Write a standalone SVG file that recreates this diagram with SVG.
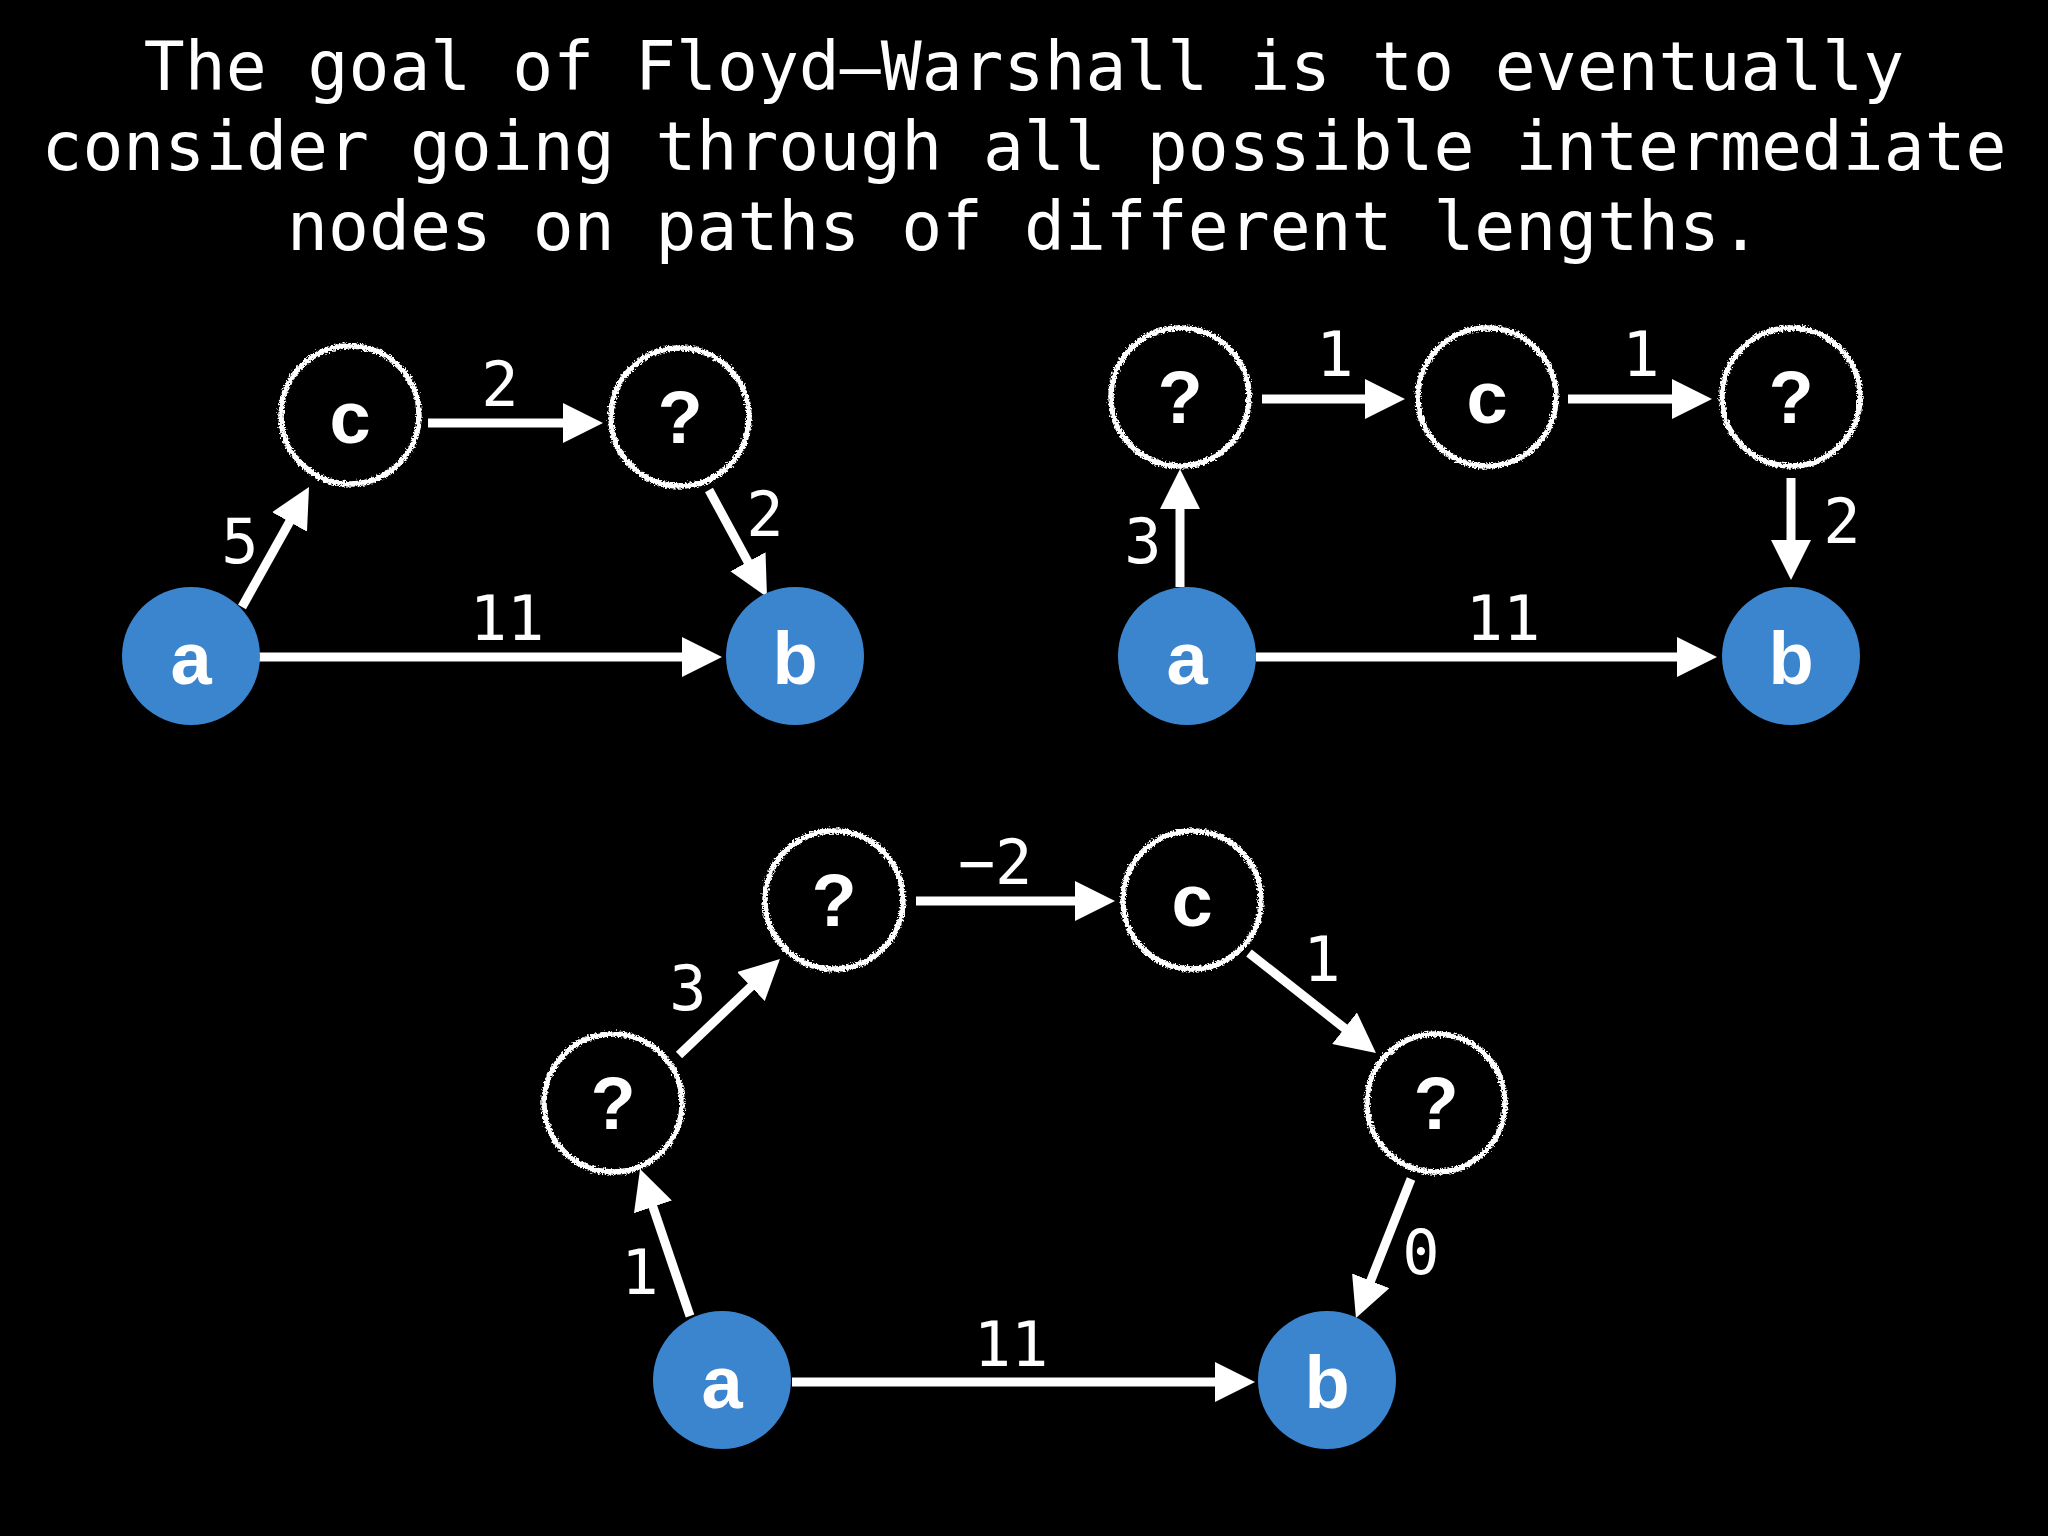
<svg xmlns="http://www.w3.org/2000/svg" width="2048" height="1536" viewBox="0 0 2048 1536">
<style>
.title{font-family:"DejaVu Sans Mono","Liberation Mono",monospace;font-size:68px;fill:#fff;text-anchor:middle}
.lbl{font-family:"DejaVu Sans Mono","Liberation Mono",monospace;font-size:62px;fill:#fff;text-anchor:middle}
.nl{font-family:"Liberation Sans",Arial,sans-serif;font-weight:bold;font-size:74px;fill:#fff;text-anchor:middle}
.solid{fill:#3b85cf}
.dash{fill:none;stroke:#fff;stroke-width:5.5;filter:url(#rough)}
.edge{stroke:#fff;stroke-width:9;fill:none;marker-end:url(#ah)}
</style>
<defs>
<marker id="ah" viewBox="0 0 40 40" markerWidth="40" markerHeight="40" markerUnits="userSpaceOnUse" refX="10" refY="20" orient="auto">
<path d="M0,0 L40,20 L0,40 z" fill="#fff"/>
</marker>
<filter id="rough" x="-10%" y="-10%" width="120%" height="120%">
<feTurbulence type="fractalNoise" baseFrequency="0.55" numOctaves="2" seed="3"/>
<feDisplacementMap in="SourceGraphic" scale="6" xChannelSelector="R" yChannelSelector="G"/>
</filter>
</defs>
<rect width="2048" height="1536" fill="#000"/>
<g id="title">
<text class="title" x="1024" y="90">The goal of Floyd–Warshall is to eventually</text>
<text class="title" x="1024" y="170">consider going through all possible intermediate</text>
<text class="title" x="1024" y="250">nodes on paths of different lengths.</text>
</g>
<g id="connectors">
<line class="edge" x1="242" y1="607" x2="294.4" y2="513.2"/>
<line class="edge" x1="428" y1="423" x2="573" y2="423"/>
<line class="edge" x1="709" y1="490" x2="752.7" y2="570.6"/>
<line class="edge" x1="259" y1="657" x2="692" y2="657"/>
<line class="edge" x1="1262" y1="399" x2="1375" y2="399"/>
<line class="edge" x1="1568" y1="399" x2="1682" y2="399"/>
<line class="edge" x1="1180" y1="587" x2="1180" y2="499"/>
<line class="edge" x1="1791" y1="478" x2="1791" y2="550"/>
<line class="edge" x1="1256" y1="657" x2="1687" y2="657"/>
<line class="edge" x1="690" y1="1316" x2="649.7" y2="1197.4"/>
<line class="edge" x1="679" y1="1055" x2="758.2" y2="979.7"/>
<line class="edge" x1="916" y1="901" x2="1085" y2="901"/>
<line class="edge" x1="1249" y1="953" x2="1352.4" y2="1034.4"/>
<line class="edge" x1="1411" y1="1179" x2="1367" y2="1290.1"/>
<line class="edge" x1="792" y1="1382" x2="1225" y2="1382"/>
<text class="lbl" x="240" y="563">5</text>
<text class="lbl" x="500" y="406">2</text>
<text class="lbl" x="765" y="536">2</text>
<text class="lbl" x="507" y="640">11</text>
<text class="lbl" x="1335" y="376">1</text>
<text class="lbl" x="1641" y="376">1</text>
<text class="lbl" x="1143" y="563">3</text>
<text class="lbl" x="1842" y="543">2</text>
<text class="lbl" x="1503" y="640">11</text>
<text class="lbl" x="640" y="1294">1</text>
<text class="lbl" x="688" y="1010">3</text>
<text class="lbl" x="995" y="884">−2</text>
<text class="lbl" x="1322" y="981">1</text>
<text class="lbl" x="1421" y="1274">0</text>
<text class="lbl" x="1011" y="1366">11</text>
</g>
<g id="g1-a"><circle class="solid" cx="191" cy="656" r="69"/><text class="nl" x="191" y="684">a</text></g>
<g id="g1-b"><circle class="solid" cx="795" cy="656" r="69"/><text class="nl" x="795" y="684">b</text></g>
<g id="g1-c"><circle class="dash" cx="350" cy="415" r="69"/><text class="nl" x="350" y="443">c</text></g>
<g id="g1-q"><circle class="dash" cx="680" cy="417" r="69"/><text class="nl" x="680" y="443">?</text></g>
<g id="g2-a"><circle class="solid" cx="1187" cy="656" r="69"/><text class="nl" x="1187" y="684">a</text></g>
<g id="g2-b"><circle class="solid" cx="1791" cy="656" r="69"/><text class="nl" x="1791" y="684">b</text></g>
<g id="g2-q1"><circle class="dash" cx="1180" cy="397" r="69"/><text class="nl" x="1180" y="423">?</text></g>
<g id="g2-c"><circle class="dash" cx="1487" cy="397" r="69"/><text class="nl" x="1487" y="423">c</text></g>
<g id="g2-q2"><circle class="dash" cx="1791" cy="397" r="69"/><text class="nl" x="1791" y="423">?</text></g>
<g id="g3-a"><circle class="solid" cx="722" cy="1380" r="69"/><text class="nl" x="722" y="1408">a</text></g>
<g id="g3-b"><circle class="solid" cx="1327" cy="1380" r="69"/><text class="nl" x="1327" y="1408">b</text></g>
<g id="g3-q1"><circle class="dash" cx="613" cy="1103" r="69"/><text class="nl" x="613" y="1129">?</text></g>
<g id="g3-q2"><circle class="dash" cx="834" cy="900" r="69"/><text class="nl" x="834" y="926">?</text></g>
<g id="g3-c"><circle class="dash" cx="1192" cy="900" r="69"/><text class="nl" x="1192" y="926">c</text></g>
<g id="g3-q3"><circle class="dash" cx="1436" cy="1103" r="69"/><text class="nl" x="1436" y="1129">?</text></g>
</svg>
